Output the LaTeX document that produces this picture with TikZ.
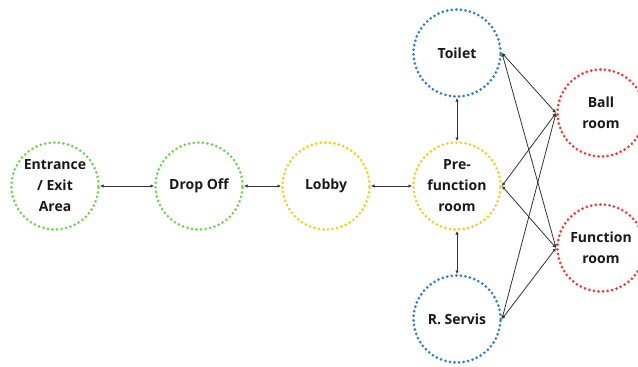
\documentclass[tikz,border=0pt]{standalone}
\usepackage{fontspec}
\setmainfont{Open Sans}
\usetikzlibrary{arrows.meta}
\definecolor{cgreen}{HTML}{6FD64A}
\definecolor{cyellow}{HTML}{FFCC14}
\definecolor{cblue}{HTML}{2F7FC8}
\definecolor{cred}{HTML}{FF3333}
\tikzset{
  room/.style={circle, minimum size=87pt, inner sep=0pt, line width=3pt,
    dash pattern=on 0pt off 4.6pt, line cap=round, align=center,
    font=\fontsize{14}{21}\selectfont\bfseries, text=black!90},
  link/.style={{Latex[length=3.5pt,width=3.5pt]}-{Latex[length=3.5pt,width=3.5pt]}, line width=0.8pt, black!80},
}
\begin{document}
\begin{tikzpicture}[x=1pt,y=-1pt]
\useasboundingbox (0,0) rectangle (638,367);
\node[room, draw=cgreen] (ent) at (55,186) {Entrance\\/ Exit\\Area};
\node[room, draw=cgreen] (drop) at (199,186) {Drop Off};
\node[room, draw=cyellow] (lobby) at (326,186) {Lobby};
\node[room, draw=cyellow] (pre) at (457,186) {Pre-\\function\\room};
\node[room, draw=cblue] (toilet) at (457,53) {Toilet};
\node[room, draw=cblue] (serv) at (457,319) {R. Servis};
\node[room, draw=cred] (ball) at (601,113) {Ball\\room};
\node[room, draw=cred] (func) at (601,248) {Function\\room};
\draw[link] (ent) -- (drop);
\draw[link] (drop) -- (lobby);
\draw[link] (lobby) -- (pre);
\draw[link] (toilet) -- (pre);
\draw[link] (pre) -- (serv);
\draw[link] (toilet.east) -- (ball.west);
\draw[link] (toilet.east) -- (func.west);
\draw[link] (pre.east) -- (ball.west);
\draw[link] (pre.east) -- (func.west);
\draw[link] (serv.east) -- (ball.west);
\draw[link] (serv.east) -- (func.west);
\end{tikzpicture}
\end{document}
